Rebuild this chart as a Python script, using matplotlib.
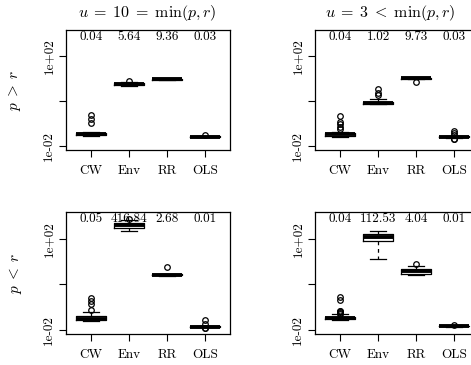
import numpy as np
import matplotlib
matplotlib.use('Agg')
import matplotlib.pyplot as plt
import matplotlib.transforms as mtransforms

plt.rcParams['font.family'] = ['cmr10', 'DejaVu Serif']
plt.rcParams['mathtext.fontset'] = 'cm'
plt.rcParams['axes.unicode_minus'] = False

methods = ['CW', 'Env', 'RR', 'OLS']
col_titles = [r'$u\;=\;10\;=\;\min(p, r)$', r'$u\;=\;3\;<\;\min(p, r)$']
row_labels = [r'$p\;>\;r$', r'$p\;<\;r$']

# panel order: top-left, top-right, bottom-left, bottom-right
means = [[0.04, 5.64, 9.36, 0.03],
         [0.04, 1.02, 9.73, 0.03],
         [0.05, 416.84, 2.68, 0.01],
         [0.04, 112.53, 4.04, 0.01]]
med = [[0.033, 5.7, 9.4, 0.026],
       [0.033, 0.86, 10.2, 0.026],
       [0.030, 380, 2.6, 0.014],
       [0.034, 114, 3.8, 0.015]]
q1 = [[0.031, 5.2, 9.1, 0.025],
      [0.029, 0.78, 9.8, 0.025],
      [0.026, 290, 2.45, 0.0135],
      [0.030, 76, 2.9, 0.0145]]
q3 = [[0.036, 6.2, 9.7, 0.027],
      [0.037, 0.95, 10.6, 0.027],
      [0.041, 470, 2.8, 0.0145],
      [0.038, 166, 4.7, 0.0155]]
whis_lo = [[0.028, 4.6, 8.9, 0.024],
           [0.026, 0.72, 9.5, 0.023],
           [0.024, 225, 2.3, 0.013],
           [0.026, 13.2, 2.5, 0.014]]
whis_hi = [[0.040, 6.8, 9.9, 0.029],
           [0.043, 1.2, 10.9, 0.029],
           [0.060, 650, 2.95, 0.015],
           [0.048, 210, 6.5, 0.016]]
fliers = [[[0.105, 0.16, 0.24], [7.7], [], [0.031]],
          [[0.057, 0.072, 0.091, 0.12, 0.21], [1.9, 2.4, 3.3], [7.1],
           [0.020, 0.021, 0.031, 0.037, 0.046]],
          [[0.076, 0.14, 0.18, 0.24], [760], [6.0], [0.012, 0.0125, 0.018, 0.026]],
          [[0.052, 0.056, 0.060, 0.065, 0.070, 0.21, 0.29], [], [7.7], [0.017]]]

W, H = 471, 365
fig = plt.figure(figsize=(W / 100, H / 100), dpi=100)

# axes boxes in pixels: left, top, width, height
boxes = [(66, 30, 164, 120), (315, 30, 164, 120),
         (66, 212, 164, 122), (315, 212, 164, 122)]

for k, (l, t, w, h) in enumerate(boxes):
    ax = fig.add_axes([l / W, 1 - (t + h) / H, w / W, h / H])
    stats = []
    for i, m in enumerate(methods):
        stats.append(dict(med=med[k][i], q1=q1[k][i], q3=q3[k][i],
                          whislo=whis_lo[k][i], whishi=whis_hi[k][i],
                          fliers=fliers[k][i], label=m))
    ax.bxp(stats, positions=[1, 2, 3, 4], widths=0.8,
           boxprops=dict(color='black', lw=0.9),
           medianprops=dict(color='black', lw=2.8, solid_capstyle='butt'),
           whiskerprops=dict(color='black', lw=0.9, linestyle=(0, (3, 3))),
           capprops=dict(color='black', lw=0.9),
           flierprops=dict(marker='o', mfc='none', mec='black', ms=4, mew=0.9))
    ax.set_yscale('log')
    ax.set_ylim(10 ** -2.18, 10 ** 3.17)
    ax.set_xlim(0.34, 4.66)
    ax.set_yticks([1e-2, 1, 1e2])
    ax.set_yticklabels(['1e-02', '', '1e+02'], rotation=90, va='center')
    ax.yaxis.set_minor_locator(matplotlib.ticker.NullLocator())
    ax.set_xticks([1, 2, 3, 4])
    ax.set_xticklabels(methods)
    ax.tick_params(axis='both', length=5, width=0.8, labelsize=9.5)
    ax.tick_params(axis='x', pad=6)
    ax.tick_params(axis='y', pad=3)
    for s in ax.spines.values():
        s.set_linewidth(0.9)
    trans = mtransforms.blended_transform_factory(ax.transData, ax.transAxes)
    for i, v in enumerate(means[k]):
        ax.text(i + 1, 0.995, '%.2f' % v, transform=trans, ha='center', va='top', fontsize=9.5)

fig.text(147.5 / W, 1 - 13 / H, col_titles[0], ha='center', va='center', fontsize=11.5)
fig.text(390 / W, 1 - 13 / H, col_titles[1], ha='center', va='center', fontsize=11.5)
fig.text(15 / W, 1 - 90 / H, row_labels[0], rotation=90, ha='center', va='center', fontsize=11)
fig.text(15 / W, 1 - 273 / H, row_labels[1], rotation=90, ha='center', va='center', fontsize=11)

fig.savefig('out.png', dpi=100)
